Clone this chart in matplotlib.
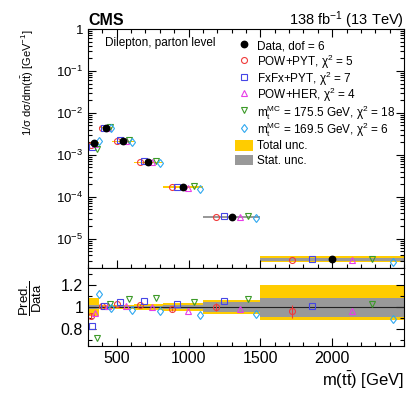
import numpy as np
import matplotlib
matplotlib.use("Agg")
import matplotlib.pyplot as plt
from matplotlib.ticker import (LogLocator, NullFormatter, FuncFormatter, MultipleLocator,
                               FixedLocator)
from matplotlib.patches import Patch, Rectangle
from matplotlib.legend_handler import HandlerPatch

plt.rcParams['font.family'] = ['Liberation Sans', 'DejaVu Sans']
plt.rcParams['mathtext.fontset'] = 'custom'
plt.rcParams['mathtext.rm'] = 'Liberation Sans'
plt.rcParams['mathtext.it'] = 'Liberation Sans:italic'
plt.rcParams['mathtext.bf'] = 'Liberation Sans:bold'

# bins of m(ttbar) in GeV
edges = [300, 380, 470, 620, 820, 1100, 1500, 2500]
# normalised cross section (data)
data = [1.9e-3, 4.4e-3, 2.1e-3, 6.7e-4, 1.7e-4, 3.3e-5, 3.2e-6]
# relative uncertainties
tot_up = [0.085, 0.022, 0.022, 0.031, 0.040, 0.065, 0.195]
tot_dn = [0.085, 0.022, 0.022, 0.031, 0.040, 0.065, 0.115]
stat_up = [0.015, 0.008, 0.008, 0.012, 0.015, 0.047, 0.085]
stat_dn = [0.015, 0.008, 0.008, 0.012, 0.015, 0.047, 0.090]

# prediction / data
r_powpyt = [0.92, 1.01, 1.03, 1.02, 0.98, 1.00, 0.96]
r_powpyt_err = [0.03, 0.006, 0.006, 0.008, 0.015, 0.035, 0.055]
r_fxfx = [0.83, 1.01, 1.045, 1.05, 1.027, 1.056, 1.005]
r_powher = [0.95, 1.01, 1.01, 1.003, 0.967, 0.985, 0.964]
r_mt1755 = [0.72, 1.03, 1.074, 1.077, 1.048, 1.071, 1.029]
r_mt1695 = [1.115, 0.99, 0.975, 0.96, 0.924, 0.938, 0.893]

labels = ['POW+PYT, χ$^{2}$ = 5',
          'FxFx+PYT, χ$^{2}$ = 7',
          'POW+HER, χ$^{2}$ = 4',
          r'm$_{\mathrm{t}}^{\mathrm{MC}}$ = 175.5 GeV, χ$^{2}$ = 18',
          r'm$_{\mathrm{t}}^{\mathrm{MC}}$ = 169.5 GeV, χ$^{2}$ = 6']
ratios = [r_powpyt, r_fxfx, r_powher, r_mt1755, r_mt1695]
colors = ['#f03a3a', '#4646e6', '#e83ce8', '#3c9a28', '#2ea8f0']
markers = ['o', 's', '^', 'v', 'd']
shifts = [-2, -1, 1, 2, 3]

edges = np.array(edges, float)
data = np.array(data)
centers = 0.5 * (edges[1:] + edges[:-1])
widths = edges[1:] - edges[:-1]

fig = plt.figure(figsize=(4.07, 3.94), dpi=100)
W, H = 407, 394
ax = fig.add_axes([88 / W, 1 - 268 / H, 316 / W, 239 / H])
rax = fig.add_axes([88 / W, 1 - 346 / H, 316 / W, 78 / H], sharex=ax)

gold = '#ffcc00'
grey = '#999999'

# main panel
ax.stairs(data * (1 + np.array(tot_up)), edges, baseline=data * (1 - np.array(tot_dn)),
          fill=True, color=gold, lw=0)
ax.stairs(data * (1 + np.array(stat_up)), edges, baseline=data * (1 - np.array(stat_dn)),
          fill=True, color=grey, lw=0)
for lab, r, c, m, s in zip(labels, ratios, colors, markers, shifts):
    x = centers + s * 0.14 * widths
    ax.plot(x, data * np.array(r), ls='none', marker=m, ms=4.3, mfc='none', mec=c, mew=0.8,
            label=lab)
ax.plot(centers, data, ls='none', marker='o', ms=4.6, color='k', label='Data, dof = 6', zorder=5)

ax.set_yscale('log')
ax.set_ylim(2e-6, 1.0)
ax.set_xlim(300, 2500)
ax.yaxis.set_major_locator(LogLocator(base=10, numticks=20))
ax.yaxis.set_minor_locator(LogLocator(base=10, subs=np.arange(2, 10), numticks=20))
ax.yaxis.set_minor_formatter(NullFormatter())
ax.yaxis.set_major_formatter(FuncFormatter(
    lambda v, _: '1' if abs(v - 1) < 1e-9 else '$10^{%d}$' % round(np.log10(v))))
ax.xaxis.set_major_locator(FixedLocator([500, 1000, 1500, 2000]))
ax.xaxis.set_minor_locator(MultipleLocator(100))
ax.tick_params(which='both', direction='in', top=True, right=True, labelbottom=False,
               labelsize=9.5, width=0.8)
ax.tick_params(which='major', length=5.5)
ax.tick_params(which='minor', length=3)
ax.set_ylabel(r'1/σ dσ/dm(t$\bar{\mathrm{t}}$) [GeV$^{-1}$]', loc='top', fontsize=8)
ax.yaxis.set_label_coords(-0.165, 1.0)

ax.text(0.054, 0.941, 'Dilepton, parton level', transform=ax.transAxes, fontsize=8.5,
        va='center', ha='left')


def small_box(legend, orig_handle, xdescent, ydescent, width, height, fontsize):
    h = 0.85 * fontsize
    return Rectangle((-xdescent, -ydescent + (height - h) / 2), width, h)


h, l = ax.get_legend_handles_labels()
h = [h[-1]] + h[:-1] + [Patch(color=gold, lw=0), Patch(color=grey, lw=0)]
l = [l[-1]] + l[:-1] + ['Total unc.', 'Stat. unc.']
ax.legend(h, l, loc='upper left', bbox_to_anchor=(0.465, 0.962), frameon=False, fontsize=8.5,
          handlelength=1.5, handleheight=1.7, handletextpad=0.4, labelspacing=-0.12,
          borderpad=0, borderaxespad=0,
          handler_map={Patch: HandlerPatch(patch_func=small_box)})

# ratio panel
rax.stairs(1 + np.array(tot_up), edges, baseline=1 - np.array(tot_dn), fill=True, color=gold, lw=0)
rax.stairs(1 + np.array(stat_up), edges, baseline=1 - np.array(stat_dn), fill=True, color=grey, lw=0)
rax.axhline(1, color='#222222', lw=0.8)
for i, (r, c, m, s) in enumerate(zip(ratios, colors, markers, shifts)):
    x = centers + s * 0.14 * widths
    yerr = r_powpyt_err if i == 0 else None
    rax.errorbar(x, r, yerr=yerr, ls='none', marker=m, ms=4.3, mfc='none', mec=c, mew=0.8,
                 ecolor=c, elinewidth=0.8, capsize=0)
rax.set_ylim(0.65, 1.35)
rax.yaxis.set_major_locator(FixedLocator([0.8, 1.0, 1.2]))
rax.yaxis.set_minor_locator(FixedLocator([0.7, 0.9, 1.1, 1.3]))
rax.yaxis.set_major_formatter(FuncFormatter(lambda v, _: '%g' % round(v, 2)))
rax.tick_params(which='both', direction='in', top=False, right=True, width=0.8)
rax.tick_params(axis='both', labelsize=11.5)
rax.tick_params(which='major', length=5.5)
rax.tick_params(which='minor', length=3)
rax.set_ylabel(r'$\dfrac{\mathrm{Pred.}}{\mathrm{Data}}$', fontsize=9.5)
rax.yaxis.set_label_coords(-0.14, 0.62)
rax.set_xlabel(r'm(t$\bar{\mathrm{t}}$) [GeV]', loc='right', fontsize=12, labelpad=3)

fig.text(88 / W, 1 - 25 / H, 'CMS', fontsize=11.5, weight='bold', va='baseline', ha='left')
fig.text(404 / W, 1 - 25 / H, '138 fb$^{-1}$ (13 TeV)', fontsize=10.5, va='baseline', ha='right')

fig.savefig('out.png', dpi=100)
